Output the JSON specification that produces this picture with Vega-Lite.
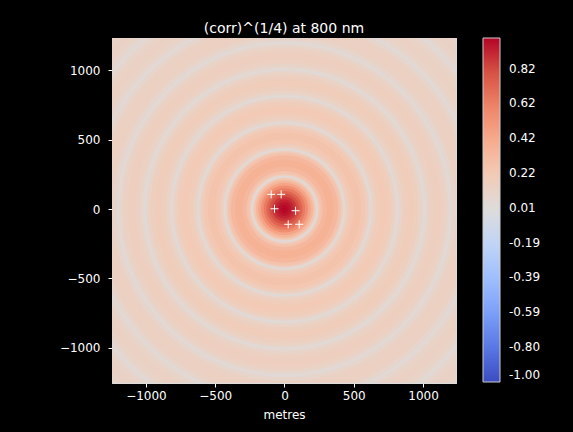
{
  "$schema": "https://vega.github.io/schema/vega-lite/v6.json",
  "autosize": "none",
  "width": 344,
  "height": 345,
  "padding": {"left": 112, "top": 38, "right": 117, "bottom": 49},
  "background": "black",
  "config": {
    "font": "DejaVu Sans",
    "view": {"stroke": "#dddddd", "strokeWidth": 1},
    "axis": {
      "grid": false,
      "labelColor": "white",
      "labelFontSize": 12,
      "labelFont": "DejaVu Sans",
      "tickColor": "white",
      "tickSize": 4,
      "domainColor": "#dddddd",
      "titleColor": "white",
      "titleFontSize": 12,
      "titleFontWeight": "normal",
      "titleFont": "DejaVu Sans",
      "zindex": 1
    }
  },
  "title": {
    "text": "(corr)^(1/4) at 800 nm",
    "color": "white",
    "fontSize": 14,
    "fontWeight": "normal",
    "font": "DejaVu Sans",
    "offset": 2
  },
  "datasets": {
    "rings": [
      {"r": 1800, "v": 0.06}, {"r": 1761, "v": 0.086}, {"r": 1741, "v": 0.11}, {"r": 1711, "v": 0.125},
      {"r": 1658, "v": 0.11}, {"r": 1628, "v": 0.086}, {"r": 1608, "v": 0.06}, {"r": 1596, "v": 0.03},
      {"r": 1580, "v": 0.064}, {"r": 1568, "v": 0.092}, {"r": 1548, "v": 0.118}, {"r": 1518, "v": 0.134},
      {"r": 1465, "v": 0.118}, {"r": 1435, "v": 0.092}, {"r": 1415, "v": 0.064}, {"r": 1403, "v": 0.03},
      {"r": 1387, "v": 0.07}, {"r": 1375, "v": 0.099}, {"r": 1355, "v": 0.128}, {"r": 1325, "v": 0.145},
      {"r": 1272, "v": 0.128}, {"r": 1242, "v": 0.099}, {"r": 1222, "v": 0.07}, {"r": 1210, "v": 0.03},
      {"r": 1194, "v": 0.076}, {"r": 1182, "v": 0.109}, {"r": 1162, "v": 0.14}, {"r": 1132, "v": 0.159},
      {"r": 1079, "v": 0.14}, {"r": 1049, "v": 0.109}, {"r": 1029, "v": 0.076}, {"r": 1017, "v": 0.03},
      {"r": 1001, "v": 0.085}, {"r": 989, "v": 0.122}, {"r": 969, "v": 0.157}, {"r": 939, "v": 0.178},
      {"r": 886, "v": 0.157}, {"r": 856, "v": 0.122}, {"r": 836, "v": 0.085}, {"r": 824, "v": 0.03},
      {"r": 808, "v": 0.099}, {"r": 796, "v": 0.141}, {"r": 776, "v": 0.182}, {"r": 746, "v": 0.206},
      {"r": 693, "v": 0.182}, {"r": 663, "v": 0.141}, {"r": 643, "v": 0.099}, {"r": 631, "v": 0.03},
      {"r": 615, "v": 0.122}, {"r": 603, "v": 0.174}, {"r": 583, "v": 0.224}, {"r": 553, "v": 0.254},
      {"r": 500, "v": 0.224}, {"r": 470, "v": 0.174}, {"r": 450, "v": 0.122}, {"r": 438, "v": 0.03},
      {"r": 422, "v": 0.175}, {"r": 408, "v": 0.25}, {"r": 388, "v": 0.32}, {"r": 358, "v": 0.364},
      {"r": 305, "v": 0.32}, {"r": 275, "v": 0.25}, {"r": 255, "v": 0.175}, {"r": 243, "v": 0.03},
      {"r": 228, "v": 0.15}, {"r": 220, "v": 0.24}, {"r": 207, "v": 0.33}, {"r": 190, "v": 0.44},
      {"r": 170, "v": 0.55}, {"r": 150, "v": 0.645}, {"r": 130, "v": 0.73}, {"r": 110, "v": 0.805},
      {"r": 90, "v": 0.87}, {"r": 70, "v": 0.92}, {"r": 50, "v": 0.96}, {"r": 30, "v": 0.985},
      {"r": 10, "v": 1.0}
    ],
    "markers": [
      {"x": -96, "y": 106}, {"x": -24, "y": 106}, {"x": -72, "y": 2},
      {"x": 80, "y": -12}, {"x": 27, "y": -110}, {"x": 106, "y": -110}
    ]
  },
  "resolve": {"axis": {"x": "independent", "y": "independent"}},
  "layer": [
    {
      "data": {"name": "rings"},
      "mark": {"type": "arc", "theta": 0, "theta2": 6.2832, "clip": true},
      "encoding": {
        "x": {
          "datum": 0, "type": "quantitative",
          "scale": {"domain": [-1245, 1238], "nice": false, "zero": false},
          "axis": {"orient": "bottom", "values": [-1000, -500, 0, 500, 1000], "format": "d", "title": "metres", "labelPadding": 3, "titlePadding": 8, "domain": true}
        },
        "y": {
          "datum": 0, "type": "quantitative",
          "scale": {"domain": [-1255, 1234], "nice": false, "zero": false},
          "axis": {"orient": "left", "values": [-1000, -500, 0, 500, 1000], "format": "d", "title": null, "labelPadding": 8, "domain": true}
        },
        "radius": {
          "field": "r", "type": "quantitative", "stack": null,
          "scale": {"type": "linear", "domain": [0, 2000], "range": [0, 276.8], "zero": true}
        },
        "order": {"field": "r", "type": "quantitative", "sort": "descending"},
        "color": {
          "field": "v", "type": "quantitative",
          "scale": {
            "domain": [-1, -0.8, -0.6, -0.4, -0.2, 0, 0.2, 0.4, 0.6, 0.8, 1],
            "range": ["#3b4cc0", "#5977e3", "#7b9ff9", "#9ebeff", "#c0d4f5", "#dddcdc", "#f2cbb7", "#f7ac8e", "#ee8468", "#d65244", "#b40426"],
            "interpolate": "rgb"
          },
          "legend": {
            "title": null,
            "type": "gradient",
            "direction": "vertical",
            "orient": "right",
            "offset": 27,
            "padding": 0,
            "gradientLength": 344,
            "gradientThickness": 17,
            "gradientStrokeColor": "#cccccc",
            "gradientStrokeWidth": 1,
            "values": [-1, -0.798, -0.594, -0.392, -0.19, 0.012, 0.218, 0.418, 0.62, 0.822],
            "labelExpr": "replace(format(datum.value, '.2f'), '\u2212', '-')",
            "labelColor": "white",
            "labelFontSize": 12,
            "labelFont": "DejaVu Sans",
            "labelOffset": 9,
            "labelOverlap": false
          }
        }
      }
    },
    {
      "data": {"name": "markers"},
      "mark": {"type": "point", "shape": "M-1,0L1,0M0,-1L0,1", "size": 64, "stroke": "white", "strokeWidth": 1, "filled": false, "opacity": 1},
      "encoding": {
        "x": {"field": "x", "type": "quantitative", "axis": {"orient": "top", "labels": false, "ticks": false, "title": null, "domain": true}},
        "y": {"field": "y", "type": "quantitative", "axis": {"orient": "right", "labels": false, "ticks": false, "title": null, "domain": true}}
      }
    }
  ]
}
